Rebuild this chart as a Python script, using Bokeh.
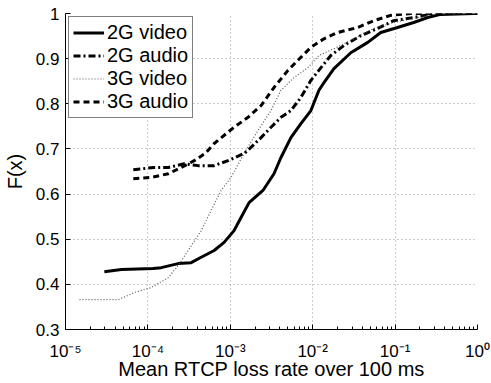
from bokeh.plotting import figure
from bokeh.models import FixedTicker, Legend, LegendItem
from bokeh.embed import file_html
from bokeh.resources import INLINE

FONT = "Liberation Sans"

# Empirical CDFs of the mean RTCP loss rate (per 100 ms window)
video_2g_x = [2.96e-5, 4.77e-5, 1.16e-4, 1.45e-4, 2.33e-4, 3.35e-4, 4.43e-4, 6.37e-4,
              8.41e-4, 1.11e-3, 1.35e-3, 1.69e-3, 2.49e-3, 3.39e-3, 4.12e-3, 5.44e-3,
              7.19e-3, 9.51e-3, 1.19e-2, 1.37e-2, 1.81e-2, 2.90e-2, 4.66e-2, 6.70e-2,
              0.107, 0.168, 0.248, 0.357, 0.895, 1.0]
video_2g_f = [0.428, 0.433, 0.435, 0.437, 0.446, 0.448, 0.460, 0.475,
              0.493, 0.519, 0.548, 0.581, 0.608, 0.645, 0.681, 0.725,
              0.756, 0.785, 0.830, 0.847, 0.878, 0.913, 0.936, 0.958,
              0.969, 0.980, 0.991, 0.998, 1.0, 1.0]

audio_2g_x = [6.65e-5, 1.19e-4, 1.77e-4, 2.76e-4, 4.07e-4, 6.37e-4, 9.40e-4, 1.47e-3,
              1.64e-3, 2.36e-3, 3.12e-3, 4.12e-3, 5.44e-3, 7.19e-3, 9.51e-3, 1.26e-2,
              1.66e-2, 2.39e-2, 3.84e-2, 6.16e-2, 9.61e-2, 0.168, 0.293, 1.0]
audio_2g_f = [0.654, 0.659, 0.659, 0.667, 0.663, 0.663, 0.674, 0.690,
              0.697, 0.725, 0.748, 0.770, 0.785, 0.814, 0.852, 0.880,
              0.907, 0.929, 0.951, 0.967, 0.984, 0.991, 1.0, 1.0]

video_3g_x = [1.48e-5, 4.38e-5, 6.84e-5, 1.10e-4, 1.77e-4, 2.33e-4, 3.08e-4, 4.43e-4,
              5.86e-4, 7.74e-4, 1.02e-3, 1.47e-3, 2.17e-3, 3.12e-3, 4.12e-3, 5.92e-3,
              8.74e-3, 1.19e-2, 1.81e-2, 3.16e-2, 5.51e-2, 9.61e-2, 0.188, 0.293,
              0.895, 1.0]
video_3g_f = [0.366, 0.366, 0.382, 0.393, 0.415, 0.442, 0.475, 0.519,
              0.564, 0.608, 0.637, 0.690, 0.741, 0.785, 0.830, 0.858,
              0.880, 0.907, 0.922, 0.944, 0.967, 0.980, 0.991, 0.998,
              1.0, 1.0]

audio_3g_x = [6.65e-5, 1.10e-4, 1.77e-4, 2.54e-4, 3.65e-4, 4.96e-4, 6.37e-4, 1.11e-3,
              1.64e-3, 2.36e-3, 3.39e-3, 5.01e-3, 7.19e-3, 9.51e-3, 1.37e-2, 2.02e-2,
              3.52e-2, 5.51e-2, 8.85e-2, 0.155, 1.0]
audio_3g_f = [0.634, 0.637, 0.645, 0.659, 0.674, 0.690, 0.712, 0.748,
              0.770, 0.796, 0.836, 0.874, 0.903, 0.925, 0.944, 0.958,
              0.969, 0.984, 0.996, 1.0, 1.0]

series_names = ["2G video", "2G audio", "3G video", "3G audio"]
x_exponents = [-5, -4, -3, -2, -1, 0]
x_tick_labels = ["10\u207b\u2075", "10\u207b\u2074", "10\u207b\u00b3",
                 "10\u207b\u00b2", "10\u207b\u00b9", "10\u2070"]
y_ticks = [0.3, 0.4, 0.5, 0.6, 0.7, 0.8, 0.9, 1.0]
y_tick_labels = ["0.3", "0.4", "0.5", "0.6", "0.7", "0.8", "0.9", "1"]
x_title = "Mean RTCP loss rate over 100 ms"
y_title = "F(x)"

p = figure(width=491, height=383, x_axis_type="log",
           x_range=(1e-5, 1.0), y_range=(0.3, 1.0),
           output_backend="svg", toolbar_location=None,
           min_border_left=64, min_border_right=14,
           min_border_top=13, min_border_bottom=54)
p.outline_line_color = None
p.background_fill_color = "white"

# axes
decades = [10.0 ** e for e in x_exponents]
minor = [m * 10.0 ** e for e in x_exponents[:-1] for m in range(2, 10)]
p.xaxis.ticker = FixedTicker(ticks=decades, minor_ticks=minor)
p.xaxis.major_label_overrides = {t: s for t, s in zip(decades, x_tick_labels)}
p.yaxis.ticker = FixedTicker(ticks=y_ticks)
p.yaxis.major_label_overrides = {t: s for t, s in zip(y_ticks, y_tick_labels)}

for ax in (p.xaxis[0], p.yaxis[0]):
    ax.axis_line_color = "black"
    ax.axis_line_width = 1
    ax.major_tick_line_color = "black"
    ax.major_tick_in = 5
    ax.major_tick_out = 0
    ax.minor_tick_line_color = "black"
    ax.minor_tick_in = 3
    ax.minor_tick_out = 0
    ax.major_label_text_font = FONT
    ax.major_label_text_font_size = "17px"
    ax.major_label_text_color = "black"
    ax.axis_label_text_font = FONT
    ax.axis_label_text_font_size = "20px"
    ax.axis_label_text_font_style = "normal"
    ax.axis_label_text_color = "black"
p.yaxis.minor_tick_line_color = None

p.xaxis.axis_label = x_title
p.xaxis.major_label_standoff = 12
p.xaxis.axis_label_standoff = -6

p.yaxis.axis_label = y_title
p.yaxis.major_label_standoff = 6
p.yaxis.axis_label_standoff = 7

# dotted grid
for g in (p.xgrid[0], p.ygrid[0]):
    g.grid_line_color = "#9a9a9a"
    g.grid_line_dash = "1 3"
    g.grid_line_width = 1

# curves
r1 = p.line(video_2g_x, video_2g_f, line_color="black", line_width=3)
r2 = p.line(audio_2g_x, audio_2g_f, line_color="black", line_width=3,
            line_dash="7 3 2 3")
r3 = p.line(video_3g_x, video_3g_f, line_color="#555555", line_width=1.2,
            line_dash="1 2")
r4 = p.line(audio_3g_x, audio_3g_f, line_color="black", line_width=3,
            line_dash="6 4")

legend = Legend(items=[LegendItem(label=n, renderers=[r])
                       for n, r in zip(series_names, [r1, r2, r3, r4])],
                location="top_left", margin=3, padding=4, spacing=0,
                glyph_width=31, glyph_height=23, label_height=23,
                label_standoff=3,
                label_text_font=FONT, label_text_font_size="20px",
                label_text_color="black",
                border_line_color="black", border_line_width=1,
                background_fill_color="white", background_fill_alpha=1.0)
p.add_layout(legend)

open("out.html", "w").write(file_html(p, INLINE))
